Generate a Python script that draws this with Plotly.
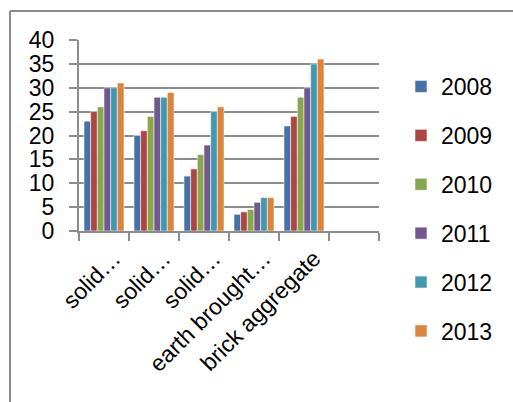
import plotly.graph_objects as go

categories = ["c1", "c2", "c3", "c4", "c5", "c6"]
tick_labels = ["solid…", "solid…", "solid…", "earth brought…", "brick aggregate", ""]
years = ["2008", "2009", "2010", "2011", "2012", "2013"]
values = {
    "2008": [23, 20, 11.5, 3.5, 22, None],
    "2009": [25, 21, 13, 4, 24, None],
    "2010": [26, 24, 16, 4.5, 28, None],
    "2011": [30, 28, 18, 6, 30, None],
    "2012": [30, 28, 25, 7, 35, None],
    "2013": [31, 29, 26, 7, 36, None],
}
colors = ["#4572A7", "#AA4643", "#89A54E", "#71588F", "#4198AF", "#DB843D"]

FONT = "Liberation Sans"
FS = 23
W, H = 513, 402
L, R, T, B = 79, 379, 40, 231

fig = go.Figure()
for y, c in zip(years, colors):
    fig.add_trace(go.Bar(
        name=y, x=categories, y=values[y],
        marker=dict(color=c, line=dict(color="rgba(255,255,255,0.55)", width=1)),
        legendgroup=y,
    ))

def px_x(p):
    return (p - L) / (R - L)

def px_y(p):
    return (B - p) / (B - T)

fig.update_layout(
    width=W, height=H,
    margin=dict(l=L, r=W - R, t=T, b=H - B, pad=0),
    paper_bgcolor="white", plot_bgcolor="white",
    barmode="group", bargap=0.2, bargroupgap=0,
    font=dict(family=FONT, size=FS, color="black"),
    showlegend=True,
    legend=dict(
        x=px_x(401), y=px_y(65), xanchor="left", yanchor="top",
        traceorder="grouped", tracegroupgap=16, maxheight=390,
        font=dict(family=FONT, size=FS, color="black"),
        bgcolor="rgba(0,0,0,0)",
    ),
    xaxis=dict(
        type="category", categoryorder="array", categoryarray=categories,
        tickmode="array", tickvals=categories, ticktext=tick_labels,
        tickangle=-45, tickson="boundaries", ticks="outside", ticklen=8,
        tickcolor="#8c8c8c", tickwidth=2,
        ticklabelstandoff=3, ticklabelshift=10,
        showline=True, linecolor="#8c8c8c", linewidth=2,
        showgrid=False, range=[-0.5, 5.5],
        tickfont=dict(family=FONT, size=FS),
    ),
    yaxis=dict(
        range=[0, 40], dtick=5, tick0=0,
        showgrid=True, gridcolor="#8c8c8c", gridwidth=2,
        showline=True, linecolor="#8c8c8c", linewidth=2,
        ticks="outside", ticklen=8, tickcolor="#8c8c8c", tickwidth=2,
        ticklabelstandoff=10,
        zeroline=False, tickfont=dict(family=FONT, size=FS),
    ),
    shapes=[
        dict(type="line", xref="paper", yref="paper",
             x0=px_x(10), x1=px_x(10), y0=px_y(11), y1=px_y(410),
             line=dict(color="#8c8c8c", width=2)),
        dict(type="line", xref="paper", yref="paper",
             x0=px_x(10), x1=px_x(520), y0=px_y(11), y1=px_y(11),
             line=dict(color="#8c8c8c", width=2)),
    ],
)

fig.write_html("out.html")
